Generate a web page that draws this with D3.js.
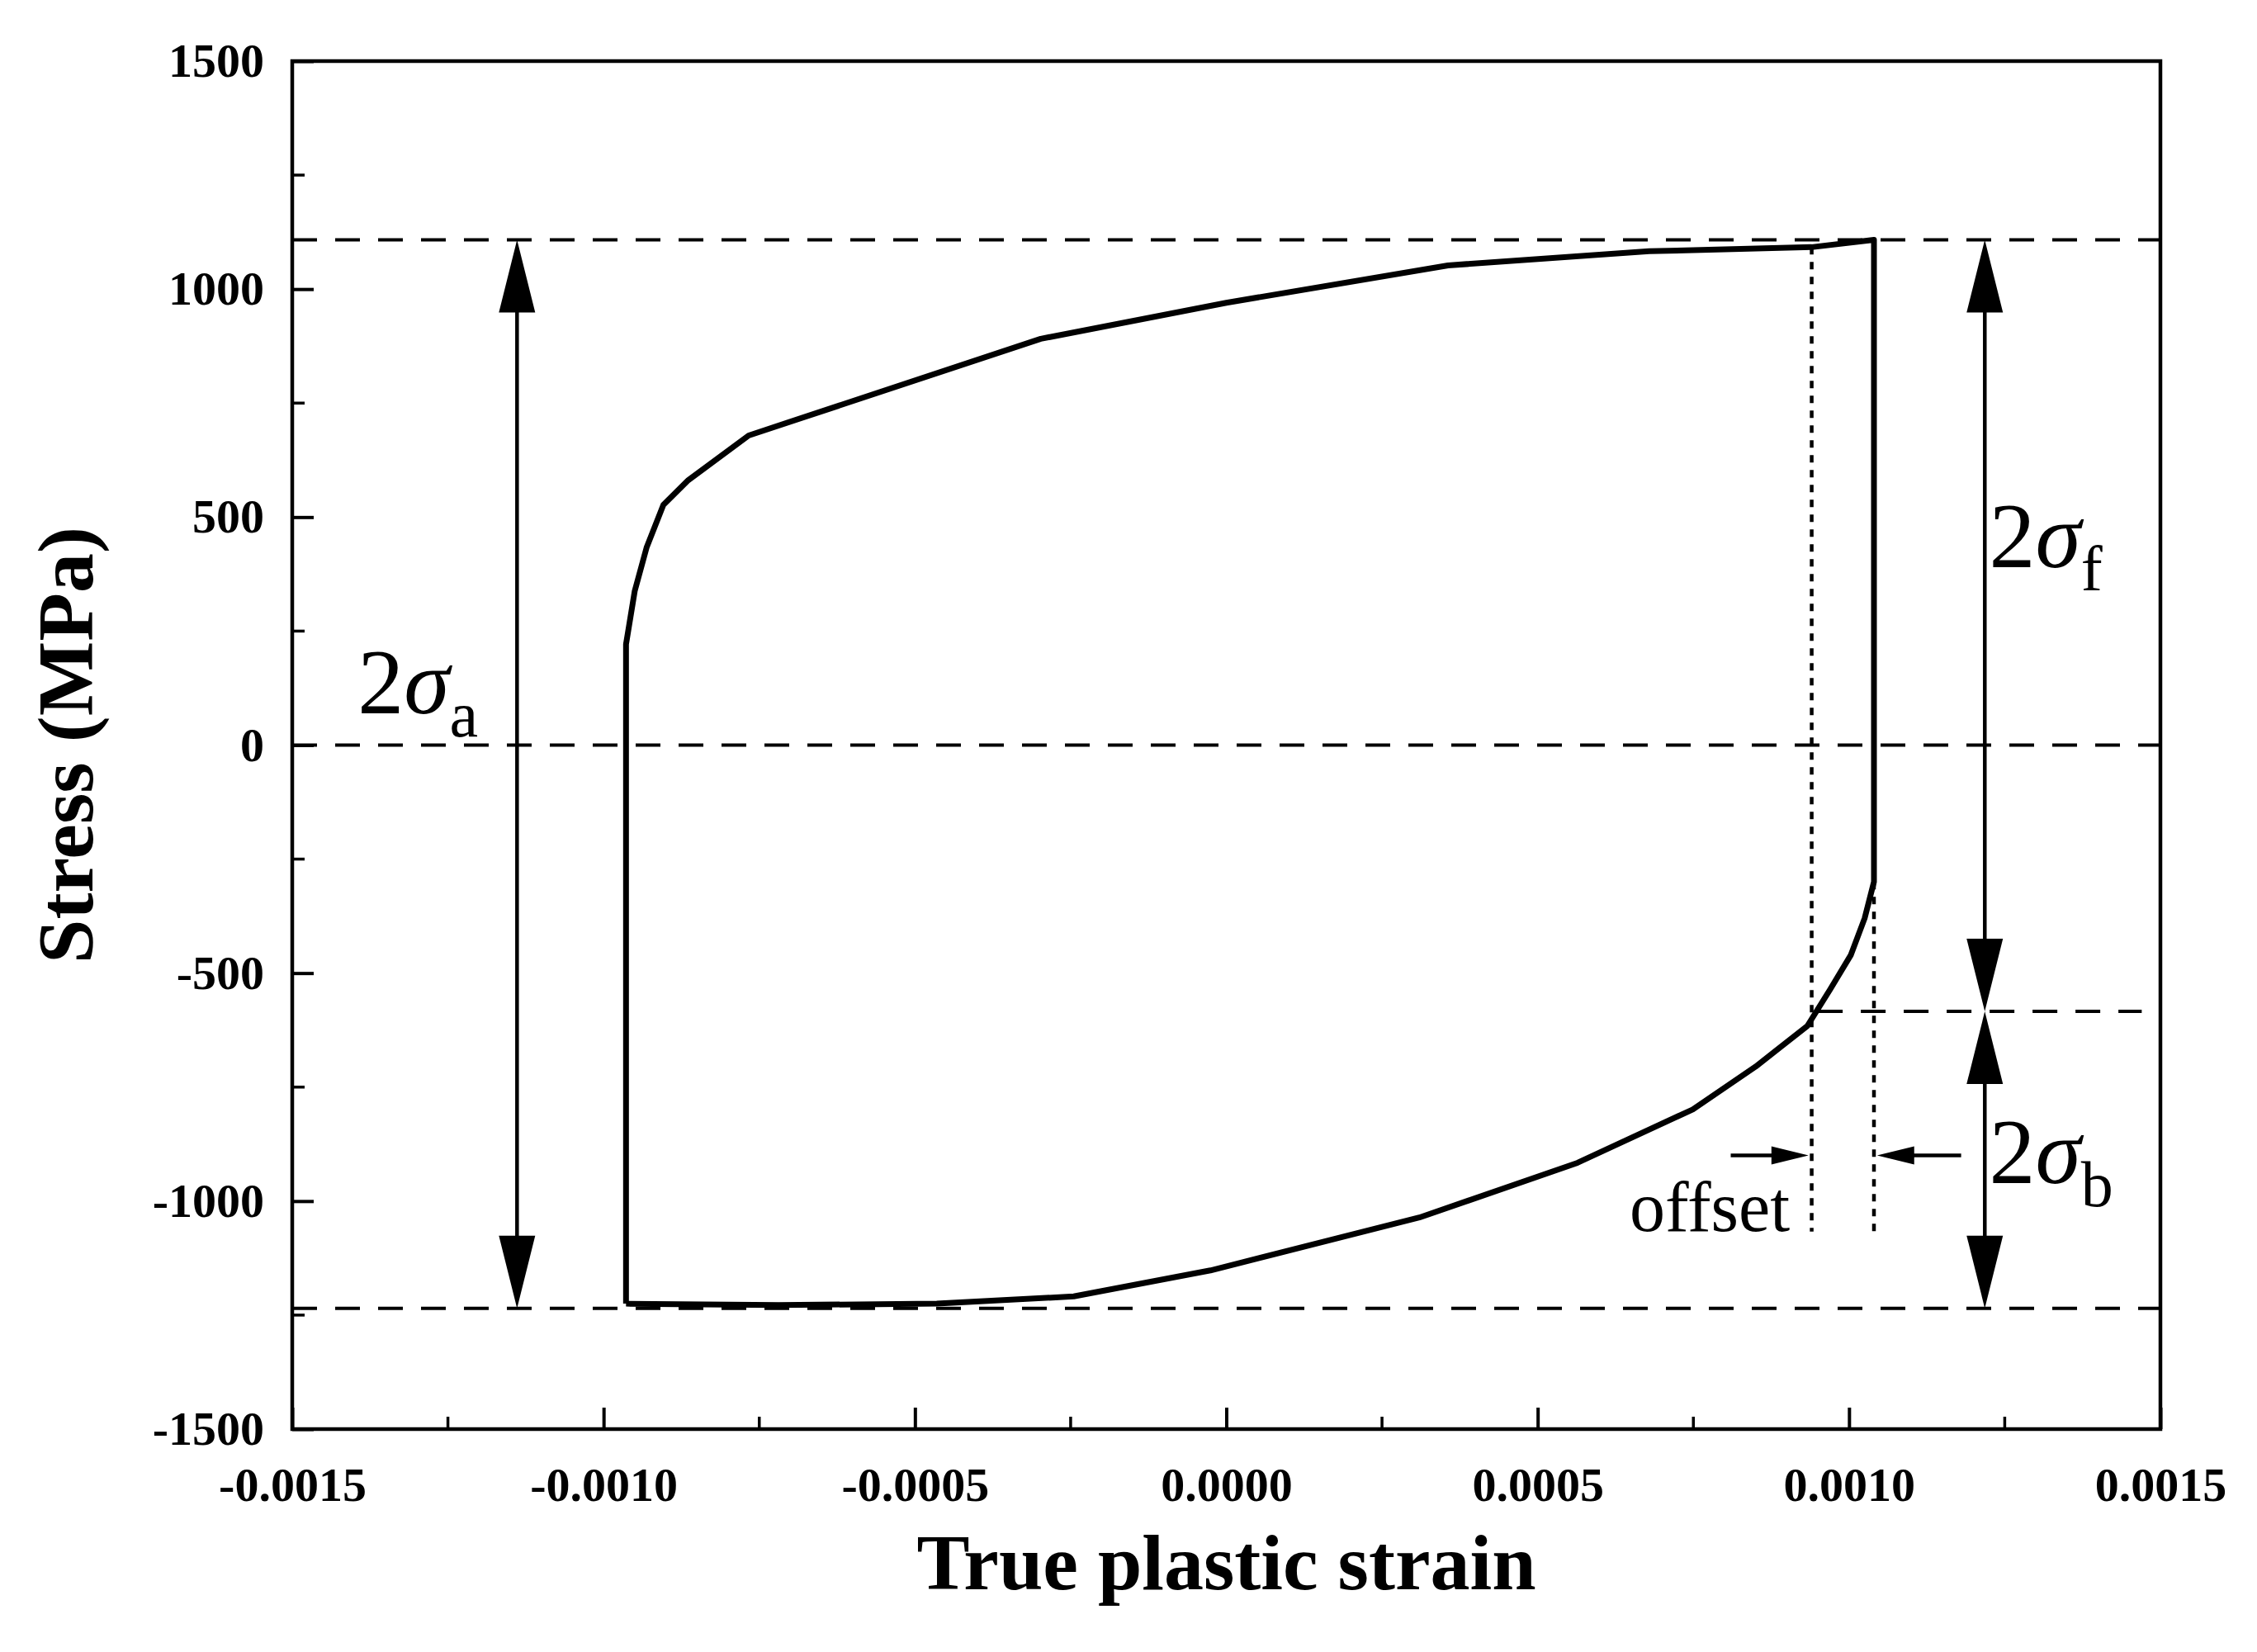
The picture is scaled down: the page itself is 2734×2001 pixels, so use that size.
<!DOCTYPE html><html><head><meta charset="utf-8">
<script src="https://cdn.jsdelivr.net/npm/d3@7"></script>
<style>body{margin:0;background:#fff}text{font-family:"Liberation Serif","Times New Roman",serif}</style></head><body>
<svg id="c" width="2734" height="2001"></svg>
<script>
const loopX=[-0.000964,-0.000964,-0.00095,-0.000931,-0.000904,-0.000864,-0.000767,-0.000298,0.0,0.000356,0.000679,0.00094,0.00104,0.00104,0.001025,0.001003,0.00097,0.000933,0.00085,0.000749,0.000564,0.00031,-0.0000255,-0.000245,-0.000465,-0.000719,-0.000964];
const loopY=[-1225,221,338,433,527,581,679,891,970,1052,1083,1092,1108,-300,-380,-460,-535,-616,-705,-799,-916,-1036,-1152,-1209,-1225,-1228,-1225];
const xTicks=[-0.0015,-0.001,-0.0005,0,0.0005,0.001,0.0015];
const yTicks=[-1500,-1000,-500,0,500,1000,1500];
const levels={top:1108,zero:0,mid:-584,bottom:-1235};
const ml=354,mt=74,W=2263,H=1657;
const svg=d3.select("#c");
const x=d3.scaleLinear().domain([-0.0015,0.0015]).range([ml,ml+W]);
const y=d3.scaleLinear().domain([-1500,1500]).range([mt+H,mt]);
const g=svg.append("g");
g.append("rect").attr("x",ml).attr("y",mt).attr("width",W).attr("height",H).attr("fill","none").attr("stroke","#000").attr("stroke-width",4.5);
const xAx=d3.axisBottom(x).tickValues(xTicks).tickSizeInner(-26).tickSizeOuter(0).tickPadding(38).tickFormat(d=>d3.format(".4f")(d).replace("−","-"));
const gx=g.append("g").attr("transform",`translate(0,${mt+H})`).call(xAx);
const yAx=d3.axisLeft(y).tickValues(yTicks).tickSizeInner(-26).tickSizeOuter(0).tickPadding(34).tickFormat(d=>String(d));
const gy=g.append("g").attr("transform",`translate(${ml},0)`).call(yAx);
[gx,gy].forEach(a=>{a.select(".domain").remove();a.selectAll("line").attr("stroke-width",4);a.selectAll("text").attr("font-size",58).attr("font-weight","bold").attr("fill","#000").style("font-family","Liberation Serif");});
gx.selectAll("text").attr("dy","0.85em");
const minorX=d3.range(-0.00125,0.0015,0.0005), minorY=d3.range(-1250,1500,500);
g.selectAll(".mx").data(minorX).join("line").attr("x1",d=>x(d)).attr("x2",d=>x(d)).attr("y1",mt+H).attr("y2",mt+H-15).attr("stroke","#000").attr("stroke-width",3.5);
g.selectAll(".my").data(minorY).join("line").attr("y1",d=>y(d)).attr("y2",d=>y(d)).attr("x1",ml).attr("x2",ml+15).attr("stroke","#000").attr("stroke-width",3.5);
const dash="30,22";
[[levels.top,-0.0015,0.0015],[levels.zero,-0.0015,0.0015],[levels.mid,0.00095,0.00147],[levels.bottom,-0.0015,0.0015]].forEach(([v,a,b])=>{
 g.append("line").attr("x1",x(a)).attr("x2",x(b)).attr("y1",y(v)).attr("y2",y(v)).attr("stroke","#000").attr("stroke-width",4).attr("stroke-dasharray",dash);});
[[0.00094,1092,-1067],[0.00104,-300,-1067]].forEach(([xv,a,b])=>{
 g.append("line").attr("x1",x(xv)).attr("x2",x(xv)).attr("y1",y(a)).attr("y2",y(b)).attr("stroke","#000").attr("stroke-width",4.5).attr("stroke-dasharray","9,9");});
const pts=loopX.map((v,i)=>[v,loopY[i]]);
g.append("path").attr("d",d3.line().x(d=>x(d[0])).y(d=>y(d[1]))(pts)).attr("fill","none").attr("stroke","#000").attr("stroke-width",7).attr("stroke-linejoin","round");
function arrowHead(px,py,dir,len,wid){
 let p;
 if(dir==="up")p=[[px,py],[px-wid,py+len],[px+wid,py+len]];
 if(dir==="down")p=[[px,py],[px-wid,py-len],[px+wid,py-len]];
 if(dir==="right")p=[[px,py],[px-len,py-wid],[px-len,py+wid]];
 if(dir==="left")p=[[px,py],[px+len,py-wid],[px+len,py+wid]];
 g.append("polygon").attr("points",p.map(q=>q.join(",")).join(" ")).attr("fill","#000");
}
function vArrow(xv,a,b){
 const X=x(xv),Y1=y(a),Y2=y(b);
 g.append("line").attr("x1",X).attr("x2",X).attr("y1",Y1+40).attr("y2",Y2-40).attr("stroke","#000").attr("stroke-width",4.5);
 arrowHead(X,Y1,"up",88,22);arrowHead(X,Y2,"down",88,22);
}
vArrow(-0.001139,levels.top,levels.bottom);
vArrow(0.001218,levels.top,levels.mid);
vArrow(0.001218,levels.mid,levels.bottom);
const oy=y(-900);
g.append("line").attr("x1",x(0.00081)).attr("x2",x(0.00090)).attr("y1",oy).attr("y2",oy).attr("stroke","#000").attr("stroke-width",4.5);
arrowHead(x(0.000935),oy,"right",45,11);
g.append("line").attr("x1",x(0.00118)).attr("x2",x(0.00108)).attr("y1",oy).attr("y2",oy).attr("stroke","#000").attr("stroke-width",4.5);
arrowHead(x(0.001045),oy,"left",45,11);
function sig(tx,ty,sub){
 const t=g.append("text").attr("x",tx).attr("y",ty).attr("font-size",112).attr("fill","#000");
 t.append("tspan").text("2");
 t.append("tspan").attr("font-style","italic").text("σ");
 t.append("tspan").attr("font-size",78).attr("dy",28).text(sub);
}
sig(x(-0.001395),y(70),"a");
sig(x(0.001225),y(390),"f");
sig(x(0.001225),y(-960),"b");
g.append("text").attr("x",x(0.000905)).attr("y",y(-1065)).attr("text-anchor","end").attr("font-size",86).text("offset");
g.append("text").attr("x",ml+W/2).attr("y",1925).attr("text-anchor","middle").attr("font-size",96).attr("font-weight","bold").text("True plastic strain");
g.append("text").attr("transform",`translate(112,${mt+H/2}) rotate(-90)`).attr("text-anchor","middle").attr("font-size",96).attr("font-weight","bold").text("Stress (MPa)");
</script></body></html>
